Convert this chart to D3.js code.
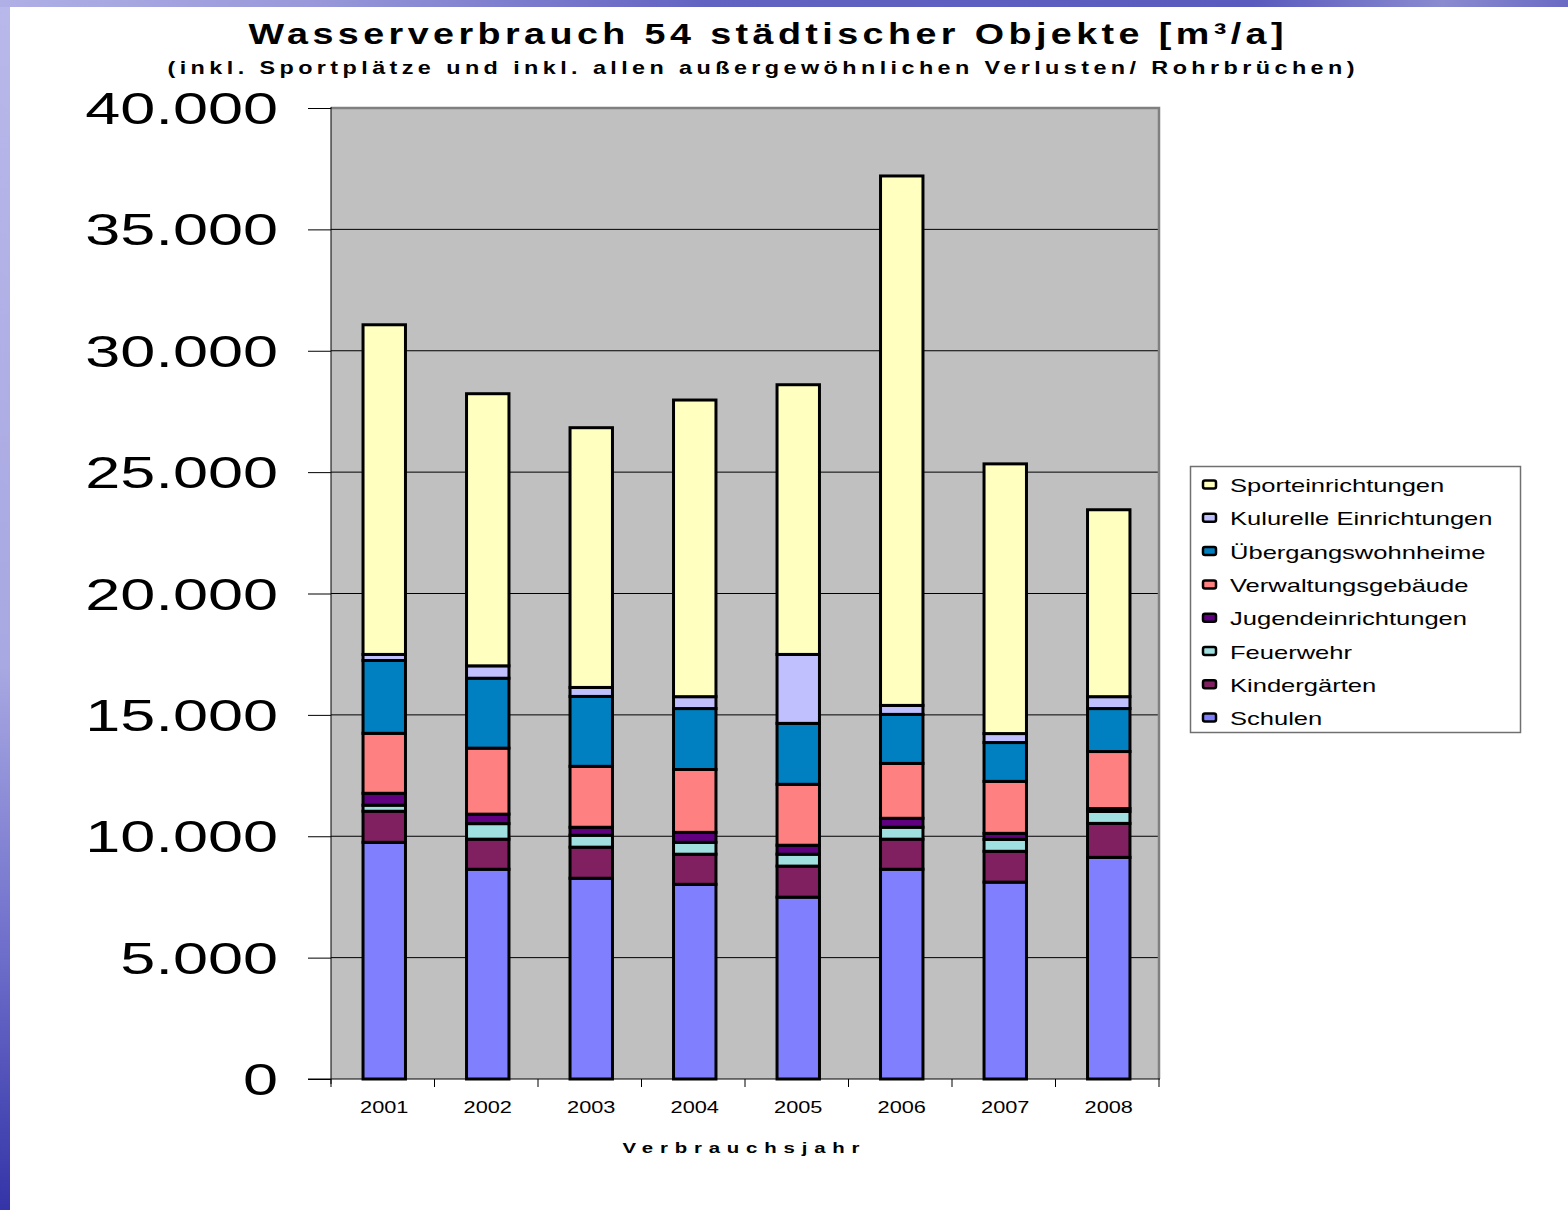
<!DOCTYPE html>
<html><head><meta charset="utf-8">
<script src="https://cdn.jsdelivr.net/npm/d3@7"></script>
<style>html,body{margin:0;padding:0;background:#fff;}svg{display:block;font-family:"Liberation Sans",Arial,sans-serif;}</style>
</head><body>
<script>
const years = ["2001","2002","2003","2004","2005","2006","2007","2008"];
const seriesNames = ["Schulen","Kindergärten","Feuerwehr","Jugendeinrichtungen","Verwaltungsgebäude","Übergangswohnheime","Kulurelle Einrichtungen","Sporteinrichtungen"];
const seriesColors = ["#8080ff","#802060","#a0e0e0","#600080","#ff8080","#0080c0","#c0c0ff","#ffffc0"];
const schulen       = [9750, 8640, 8270, 8020, 7490, 8640, 8110, 9130];
const kindergaerten = [1280, 1240, 1280, 1240, 1280, 1240, 1270, 1400];
const feuerwehr     = [250, 640, 490, 490, 490, 490, 490, 490];
const jugend        = [490, 390, 330, 410, 370, 370, 250, 120];
const verwaltung    = [2470, 2720, 2510, 2590, 2510, 2260, 2140, 2350];
const uebergang     = [3000, 2880, 2880, 2510, 2510, 2020, 1600, 1770];
const kultur        = [250, 510, 370, 490, 2840, 370, 370, 490];
const sport         = [13580, 11210, 10700, 12220, 11110, 21810, 11110, 7700];
const yTicks = [0,5000,10000,15000,20000,25000,30000,35000,40000];
const titleText = "Wasserverbrauch 54 städtischer Objekte [m³/a]";
const subtitleText = "(inkl. Sportplätze und inkl. allen außergewöhnlichen Verlusten/ Rohrbrüchen)";
const xTitle = "Verbrauchsjahr";

const seriesValues = [schulen, kindergaerten, feuerwehr, jugend, verwaltung, uebergang, kultur, sport];
const table = years.map((y,i)=>{const o={year:y}; seriesNames.forEach((n,j)=>o[n]=seriesValues[j][i]); return o;});

const W=1568,H=1210, SX=1.36;
const svg=d3.select("body").append("svg").attr("width",W).attr("height",H);
const defs=svg.append("defs");
const lg=defs.append("linearGradient").attr("id","leftg").attr("x1",0).attr("y1",0).attr("x2",0).attr("y2",1);
[[0,"#b8b8ea"],[0.55,"#a8a8e2"],[0.78,"#7070cc"],[1,"#3434a8"]].forEach(s=>lg.append("stop").attr("offset",s[0]).attr("stop-color",s[1]));
const tg=defs.append("linearGradient").attr("id","topg").attr("x1",0).attr("y1",0).attr("x2",1).attr("y2",0);
[[0,"#b0b0e6"],[0.2,"#9898da"],[0.45,"#6262c2"],[0.8,"#5a5abe"],[0.92,"#8a8ad0"],[1,"#6a6ac4"]].forEach(s=>tg.append("stop").attr("offset",s[0]).attr("stop-color",s[1]));
svg.append("rect").attr("x",0).attr("y",0).attr("width",10).attr("height",H).attr("fill","url(#leftg)");
svg.append("rect").attr("x",0).attr("y",0).attr("width",W).attr("height",7).attr("fill","url(#topg)");

const L=331,R=1159,T=108,B=1079;
const x=d3.scaleBand().domain(years).range([L+1.5,R+1.5]).paddingInner(0.59).paddingOuter(0.295);
const y=d3.scaleLinear().domain([0,40000]).range([B,T]);
const fmt=d3.formatLocale({decimal:",",thousands:".",grouping:[3],currency:["","€"]}).format(",");

svg.append("rect").attr("x",L).attr("y",T).attr("width",R-L).attr("height",B-T).attr("fill","#c0c0c0");
// gridlines
svg.append("g").selectAll("line").data(yTicks.filter(d=>d>0)).join("line")
 .attr("x1",L).attr("x2",R).attr("y1",d=>y(d)).attr("y2",d=>y(d)).attr("stroke","#000").attr("stroke-width",1);
// frame top/right
svg.append("path").attr("d",`M${L},${T}H${R}V${B}`).attr("fill","none").attr("stroke","#808080").attr("stroke-width",2.5);

// bars
const stack=d3.stack().keys(seriesNames)(table);
const gb=svg.append("g");
stack.forEach((s,i)=>{
  gb.append("g").selectAll("rect").data(s).join("rect")
   .attr("x",d=>x(d.data.year)).attr("width",x.bandwidth())
   .attr("y",d=>y(d[1])).attr("height",d=>y(d[0])-y(d[1]))
   .attr("fill",seriesColors[i]).attr("stroke","#000").attr("stroke-width",3);
});

// y axis
const ya=svg.append("g").attr("transform",`translate(${L},0)`)
 .call(d3.axisLeft(y).tickValues(yTicks).tickSize(23).tickPadding(0).tickFormat(""));
ya.select(".domain").remove();
ya.selectAll(".tick line").attr("stroke","#000");
svg.append("line").attr("x1",L).attr("x2",L).attr("y1",T-1).attr("y2",B+5).attr("stroke","#000");
svg.append("g").selectAll("text").data(yTicks).join("text")
 .attr("transform",d=>`translate(278,${y(d)+16}) scale(1.4,1)`)
 .attr("text-anchor","end").attr("font-size",45).attr("fill","#000").text(d=>fmt(d));

// x axis
svg.append("line").attr("x1",308).attr("x2",R+1).attr("y1",B).attr("y2",B).attr("stroke","#000");
svg.append("g").selectAll("line").data(d3.range(years.length+1)).join("line")
 .attr("x1",i=>L+i*(R-L)/years.length).attr("x2",i=>L+i*(R-L)/years.length)
 .attr("y1",B).attr("y2",B+8).attr("stroke","#000");
svg.append("g").selectAll("text").data(years).join("text")
 .attr("transform",d=>`translate(${x(d)+x.bandwidth()/2},1113) scale(${SX},1)`)
 .attr("text-anchor","middle").attr("font-size",16).text(d=>d);

svg.append("text").attr("transform",`translate(741,1153) scale(${SX},1)`)
 .attr("text-anchor","middle").attr("font-size",15).attr("font-weight","bold")
 .attr("textLength",237/SX).attr("lengthAdjust","spacing").text(xTitle);

// titles
svg.append("text").attr("transform",`translate(766,44) scale(1.3,1)`)
 .attr("text-anchor","middle").attr("font-size",29).attr("font-weight","bold")
 .attr("textLength",1035/1.3).attr("lengthAdjust","spacing").text(titleText);
svg.append("text").attr("transform",`translate(761,74) scale(1.3,1)`)
 .attr("text-anchor","middle").attr("font-size",18).attr("font-weight","bold")
 .attr("textLength",1187/1.3).attr("lengthAdjust","spacing").text(subtitleText);

// legend
const lgG=svg.append("g");
lgG.append("rect").attr("x",1190.5).attr("y",466.5).attr("width",330).attr("height",266)
 .attr("fill","#fff").attr("stroke","#707070").attr("stroke-width",1.5);
const order=d3.range(seriesNames.length).reverse();
const items=lgG.selectAll("g.it").data(order).join("g").attr("class","it")
 .attr("transform",(d,i)=>`translate(1203,${485+i*33.3})`);
items.append("rect").attr("x",0).attr("y",-4.5).attr("width",13).attr("height",8).attr("rx",2)
 .attr("fill",d=>seriesColors[d]).attr("stroke","#000").attr("stroke-width",2.5);
items.append("text").attr("transform",`translate(27,7) scale(1.46,1)`)
 .attr("font-size",17.5).text(d=>seriesNames[d]);
</script>
</body></html>
